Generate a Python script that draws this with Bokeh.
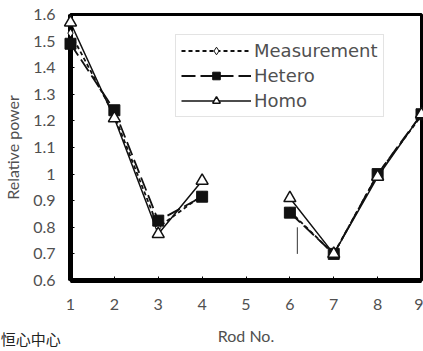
import math
from bokeh.plotting import figure
from bokeh.models import (ColumnDataSource, Legend, LegendItem, FixedTicker,
                          CustomJSTickFormatter)
from bokeh.core.properties import value
from bokeh.embed import file_html
from bokeh.resources import INLINE

nan = float("nan")

# ---- data ----
rod_no = [1, 2, 3, 4, 5, 6, 7, 8, 9]
measurement = [1.53, 1.22, 0.80, 0.92, nan, 0.86, 0.70, 1.00, 1.22]
hetero = [1.49, 1.24, 0.825, 0.915, nan, 0.855, 0.70, 1.00, 1.225]
homo = [1.57, 1.21, 0.775, 0.975, nan, 0.91, 0.70, 0.99, 1.225]

x_ticks = [1, 2, 3, 4, 5, 6, 7, 8, 9]
y_ticks = [0.6, 0.7, 0.8, 0.9, 1.0, 1.1, 1.2, 1.3, 1.4, 1.5, 1.6]

stray_x = [6.17]
stray_y0 = [0.80]
stray_y1 = [0.70]

caption_text = ["恒心中心"]
caption_x = [-0.59]
caption_y = [0.42]

src = ColumnDataSource(dict(x=rod_no, meas=measurement, het=hetero, hom=homo))

p = figure(width=423, height=351, output_backend="svg", toolbar_location=None,
           x_range=(1, 9), y_range=(0.6, 1.6),
           min_border_left=70, min_border_right=2,
           min_border_top=14, min_border_bottom=71)

p.xgrid.visible = False
p.ygrid.visible = False
p.background_fill_color = "white"
p.border_fill_color = "white"
p.outline_line_color = "black"
p.outline_line_width = 3

axis_font = "Lato"
for ax in (p.xaxis[0], p.yaxis[0]):
    ax.axis_line_color = "black"
    ax.axis_line_width = 5
    ax.major_tick_in = 4
    ax.major_tick_out = 0
    ax.major_tick_line_color = "black"
    ax.major_tick_line_width = 1
    ax.minor_tick_line_color = None
    ax.major_label_text_font = axis_font
    ax.major_label_text_font_size = "16px"
    ax.major_label_text_color = "#505050"
    ax.axis_label_text_font = axis_font
    ax.axis_label_text_font_size = "16px"
    ax.axis_label_text_font_style = "normal"
    ax.axis_label_text_color = "#505050"

p.xaxis.ticker = FixedTicker(ticks=x_ticks)
p.yaxis.ticker = FixedTicker(ticks=y_ticks)
p.yaxis.formatter = CustomJSTickFormatter(code="return tick.toFixed(1).replace(/\\.0$/, '');")
p.xaxis.major_label_standoff = 18
p.yaxis.major_label_standoff = 15
p.xaxis.axis_label = "Rod No."
p.yaxis.axis_label = "Relative power"
p.xaxis.axis_label_standoff = 13
p.yaxis.axis_label_standoff = 8

# lines
l_meas = p.line("x", "meas", source=src, line_color="#111111", line_width=1.8, line_dash="4 3")
l_het = p.line("x", "het", source=src, line_color="#111111", line_width=1.8, line_dash="14 5")
l_hom = p.line("x", "hom", source=src, line_color="#111111", line_width=1.5)

# markers
m_meas = p.scatter("x", "meas", source=src, marker="diamond", size=8,
                   fill_color="white", line_color="#111111", line_width=1, level="overlay")
m_het = p.scatter("x", "het", source=src, marker="square", size=11,
                  fill_color="#111111", line_color="#111111", level="overlay")
m_hom = p.scatter("x", "hom", source=src, marker="triangle", size=12,
                  fill_color="white", line_color="#111111", line_width=1.5, level="overlay")

p.segment(x0=stray_x, y0=stray_y0, x1=stray_x, y1=stray_y1, line_color="#333333", line_width=1)

legend = Legend(items=[
    LegendItem(label="Measurement", renderers=[l_meas, m_meas]),
    LegendItem(label="Hetero", renderers=[l_het, m_het]),
    LegendItem(label="Homo", renderers=[l_hom, m_hom]),
], location=(105, 163))
legend.border_line_color = "#c8c8c8"
legend.border_line_width = 1.5
legend.padding = 5
legend.spacing = 4
legend.margin = 0
legend.glyph_width = 70
legend.glyph_height = 19
legend.label_standoff = 3
legend.label_text_font = "DejaVu Sans"
legend.label_text_font_size = "18px"
legend.label_text_color = "#505050"
legend.background_fill_alpha = 1
p.add_layout(legend)

p.text(x=caption_x, y=caption_y, text=caption_text,
       text_font=value("Noto Sans CJK SC"), text_font_size="15px", text_color="#222222",
       text_baseline="top", text_align="left", level="overlay")

open("out.html", "w").write(file_html(p, INLINE))
